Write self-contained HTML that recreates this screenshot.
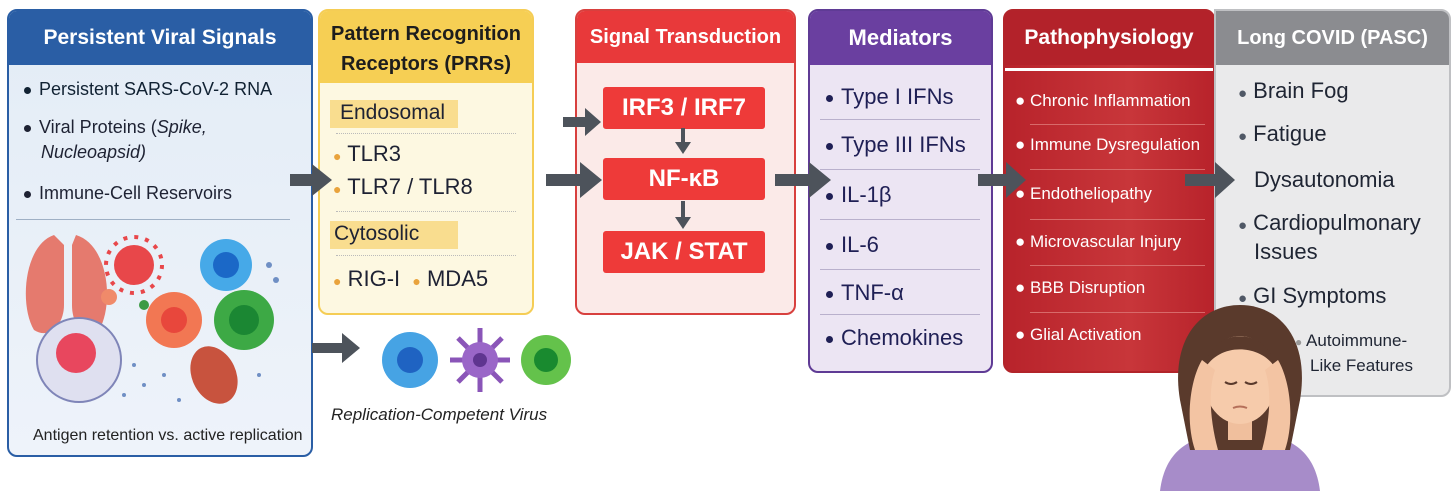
<!DOCTYPE html>
<html><head><meta charset="utf-8"><style>
*{margin:0;padding:0;box-sizing:border-box}
body{width:1456px;height:491px;background:#fff;position:relative;overflow:hidden;font-family:"Liberation Sans Narrow","Liberation Sans",sans-serif;color:#1e2233}
.a{position:absolute}
.panel{position:absolute;border-radius:10px;overflow:hidden;border:2px solid}
.hd{position:absolute;left:0;right:0;top:0;color:#fff;font-weight:bold;text-align:center;font-size:21px}
.t{position:absolute;white-space:nowrap}
.dot::before{content:"";display:inline-block;width:7px;height:7px;border-radius:50%;background:currentColor;margin-right:8px;vertical-align:middle}
.hr{position:absolute;height:1px}
.box{position:absolute;left:603px;width:162px;height:42px;background:#ee3a39;border-radius:3px;color:#fff;font-weight:bold;font-size:24px;text-align:center;line-height:42px}
</style></head><body>
<svg class="a" style="left:0;top:0" width="1456" height="491">
<defs><marker id="m" markerWidth="4" markerHeight="4" refX="2" refY="2" orient="auto"><path d="M0,0L4,2L0,4z" fill="#4d535b"/></marker></defs>
</svg>

<!-- Panel 1 -->
<div class="panel" style="left:7px;top:9px;width:306px;height:448px;border-color:#2a5ea5;background:linear-gradient(#e3ecf6,#eef3fa)">
 <div class="hd" style="height:54px;background:#2a5ea5;line-height:54px;font-size:21px">Persistent Viral Signals</div>
</div>
<div class="t dot" style="left:24px;top:79px;font-size:18px;color:#123">Persistent SARS-CoV-2 RNA</div>
<div class="t dot" style="left:24px;top:117px;font-size:18px">Viral Proteins (<i>Spike,</i></div>
<div class="t" style="left:41px;top:142px;font-size:18px"><i>Nucleoapsid)</i></div>
<div class="t dot" style="left:24px;top:183px;font-size:18px">Immune-Cell Reservoirs</div>
<div class="hr" style="left:16px;top:219px;width:274px;background:#9fb0c5"></div>
<svg class="a" style="left:14px;top:225px" width="290" height="190">
 <path d="M40,10 C10,20 5,80 20,105 C35,115 50,100 50,80 L50,20z" fill="#e57a6e"/>
 <path d="M62,10 C95,20 100,80 85,105 C70,115 58,100 58,80 L58,20z" fill="#e57a6e"/>
 <g fill="#e8474a"><circle cx="120" cy="40" r="20"/><circle cx="120" cy="40" r="28" fill="none" stroke="#e8474a" stroke-width="4" stroke-dasharray="4 7"/></g>
 <circle cx="212" cy="40" r="26" fill="#46a9e8"/><circle cx="212" cy="40" r="13" fill="#1b68c7"/>
 <circle cx="160" cy="95" r="28" fill="#f27753"/><circle cx="160" cy="95" r="13" fill="#e8473c"/>
 <circle cx="230" cy="95" r="30" fill="#3da945"/><circle cx="230" cy="95" r="15" fill="#1b8733"/>
 <circle cx="95" cy="72" r="8" fill="#f08a6a"/><circle cx="130" cy="80" r="5" fill="#3c9a44"/>
 <circle cx="65" cy="135" r="42" fill="#dfe0f0" stroke="#7f85b8" stroke-width="2"/><circle cx="62" cy="128" r="20" fill="#e8475e"/>
 <ellipse cx="200" cy="150" rx="22" ry="30" fill="#c8533e" transform="rotate(-25 200 150)"/>
 <g fill="#6f8fc4"><circle cx="120" cy="140" r="2"/><circle cx="130" cy="160" r="2"/><circle cx="150" cy="150" r="2"/><circle cx="110" cy="170" r="2"/><circle cx="165" cy="175" r="2"/><circle cx="245" cy="150" r="2"/><circle cx="255" cy="40" r="3"/><circle cx="262" cy="55" r="3"/></g>
</svg>
<div class="t" style="left:33px;top:427px;font-size:16px;color:#222">Antigen retention vs. active replication</div>

<!-- Panel 2 -->
<div class="panel" style="left:318px;top:9px;width:216px;height:306px;border-color:#f5cd55;background:#fdf8e1">
 <div class="hd" style="height:72px;background:#f6cf54;color:#1d1d1d;font-size:20px;line-height:30px;padding-top:8px">Pattern Recognition<br>Receptors (PRRs)</div>
</div>
<div class="a" style="left:330px;top:100px;width:128px;height:28px;background:#f9dd8f"></div>
<div class="t" style="left:340px;top:101px;font-size:21px">Endosomal</div>
<div class="hr" style="left:336px;top:133px;width:180px;border-top:1px dotted #bbb"></div>
<div class="t" style="left:333px;top:141px;font-size:22px;color:#e9a33c"><span style="font-size:14px">●</span> <span style="color:#1e2233">TLR3</span></div>
<div class="t" style="left:333px;top:174px;font-size:22px;color:#e9a33c"><span style="font-size:14px">●</span> <span style="color:#1e2233">TLR7 / TLR8</span></div>
<div class="hr" style="left:336px;top:211px;width:180px;border-top:1px dotted #bbb"></div>
<div class="a" style="left:330px;top:221px;width:128px;height:28px;background:#f9dd8f"></div>
<div class="t" style="left:334px;top:222px;font-size:21px">Cytosolic</div>
<div class="hr" style="left:336px;top:255px;width:180px;border-top:1px dotted #bbb"></div>
<div class="t" style="left:333px;top:266px;font-size:22px;color:#e9a33c"><span style="font-size:14px">●</span> <span style="color:#1e2233">RIG-I</span> &nbsp;<span style="font-size:14px">●</span> <span style="color:#1e2233">MDA5</span></div>

<!-- Panel 3 -->
<div class="panel" style="left:575px;top:9px;width:221px;height:306px;border-color:#d8403e;background:#fbeae8">
 <div class="hd" style="height:52px;background:#e8393a;line-height:52px;font-size:20px">Signal Transduction</div>
</div>
<div class="box" style="top:87px">IRF3 / IRF7</div>
<div class="box" style="top:158px">NF-κB</div>
<div class="box" style="top:231px">JAK / STAT</div>

<!-- Panel 4 -->
<div class="panel" style="left:808px;top:9px;width:185px;height:364px;border-color:#5f3b95;background:#ece5f3">
 <div class="hd" style="height:54px;background:#6a3fa0;line-height:54px;font-size:22px">Mediators</div>
</div>
<div class="t dot" style="left:826px;top:84px;font-size:22px;color:#1f1f55">Type I IFNs</div>
<div class="t dot" style="left:826px;top:132px;font-size:22px;color:#1f1f55">Type III IFNs</div>
<div class="t dot" style="left:826px;top:182px;font-size:22px;color:#1f1f55">IL-1β</div>
<div class="t dot" style="left:826px;top:232px;font-size:22px;color:#1f1f55">IL-6</div>
<div class="t dot" style="left:826px;top:280px;font-size:22px;color:#1f1f55">TNF-α</div>
<div class="t dot" style="left:826px;top:325px;font-size:22px;color:#1f1f55">Chemokines</div>
<div class="hr" style="left:820px;top:119px;width:160px;background:#b9b0cc"></div>
<div class="hr" style="left:820px;top:169px;width:160px;background:#b9b0cc"></div>
<div class="hr" style="left:820px;top:219px;width:160px;background:#b9b0cc"></div>
<div class="hr" style="left:820px;top:269px;width:160px;background:#b9b0cc"></div>
<div class="hr" style="left:820px;top:314px;width:160px;background:#b9b0cc"></div>

<!-- Panel 5 -->
<div class="panel" style="left:1003px;top:9px;width:212px;height:364px;border-color:#b2242a;background:linear-gradient(90deg,#b8232b,#c8363a 60%,#b8232b)">
 <div class="hd" style="height:54px;background:#b3222a;line-height:54px;font-size:21px">Pathophysiology</div>
 <div class="hr" style="left:0;right:0;top:57px;height:3px;background:#fff"></div>
</div>
<div class="t" style="left:1015px;top:91px;font-size:17px;color:#fff">● Chronic Inflammation</div>
<div class="t" style="left:1015px;top:135px;font-size:17px;color:#fff">● Immune Dysregulation</div>
<div class="t" style="left:1015px;top:184px;font-size:17px;color:#fff">● Endotheliopathy</div>
<div class="t" style="left:1015px;top:232px;font-size:17px;color:#fff">● Microvascular Injury</div>
<div class="t" style="left:1015px;top:278px;font-size:17px;color:#fff">● BBB Disruption</div>
<div class="t" style="left:1015px;top:325px;font-size:17px;color:#fff">● Glial Activation</div>
<div class="hr" style="left:1030px;top:124px;width:175px;background:#d86a6a"></div>
<div class="hr" style="left:1030px;top:169px;width:175px;background:#d86a6a"></div>
<div class="hr" style="left:1030px;top:219px;width:175px;background:#d86a6a"></div>
<div class="hr" style="left:1030px;top:265px;width:175px;background:#d86a6a"></div>
<div class="hr" style="left:1030px;top:312px;width:175px;background:#d86a6a"></div>

<!-- Panel 6 -->
<div class="panel" style="left:1214px;top:9px;width:237px;height:388px;border-color:#bfc0c3;background:#eaeaeb;border-radius:0 10px 10px 0">
 <div class="hd" style="height:54px;background:#8b8c90;line-height:54px;font-size:20px">Long COVID (PASC)</div>
</div>
<div class="t" style="left:1238px;top:78px;font-size:22px;color:#1f2533"><span style="color:#505866;font-size:15px">●</span> Brain Fog</div>
<div class="t" style="left:1238px;top:121px;font-size:22px;color:#1f2533"><span style="color:#505866;font-size:15px">●</span> Fatigue</div>
<div class="t" style="left:1254px;top:167px;font-size:22px;color:#1f2533">Dysautonomia</div>
<div class="t" style="left:1238px;top:210px;font-size:22px;color:#1f2533"><span style="color:#505866;font-size:15px">●</span> Cardiopulmonary</div>
<div class="t" style="left:1254px;top:239px;font-size:22px;color:#1f2533">Issues</div>
<div class="t" style="left:1238px;top:283px;font-size:22px;color:#1f2533"><span style="color:#505866;font-size:15px">●</span> GI Symptoms</div>
<div class="t" style="left:1295px;top:331px;font-size:17px;color:#1f2533"><span style="color:#999;font-size:12px">●</span> Autoimmune-</div>
<div class="t" style="left:1310px;top:356px;font-size:17px;color:#1f2533">Like Features</div>

<!-- woman -->
<svg class="a" style="left:1140px;top:300px" width="200" height="191">
 <path d="M20,191 C25,150 50,140 70,135 L130,135 C150,140 175,150 180,191z" fill="#a78cc9"/>
 <path d="M40,100 C30,40 60,5 100,5 C140,5 170,40 160,100 L150,150 L50,150z" fill="#5a3a2c"/>
 <rect x="88" y="110" width="24" height="30" fill="#f0bf9d"/>
 <ellipse cx="100" cy="80" rx="36" ry="44" fill="#f6cbab"/>
 <path d="M64,70 C70,25 130,25 136,70 C125,45 80,40 64,70z" fill="#5a3a2c"/>
 <path d="M85,82 q6,4 12,0 M105,82 q6,4 12,0" stroke="#5a3a2c" stroke-width="2" fill="none"/>
 <path d="M93,108 q7,-3 14,0" stroke="#b5705a" stroke-width="2" fill="none"/>
 <path d="M55,150 C45,120 50,80 62,60 L75,70 C68,90 70,120 78,150z" fill="#f3c4a3"/>
 <path d="M145,150 C155,120 150,80 138,60 L125,70 C132,90 130,120 122,150z" fill="#f3c4a3"/>
</svg>

<!-- arrows -->
<svg class="a" style="left:0;top:0" width="1456" height="491">
 <g fill="#4d535b">
  <path d="M290,174h22v-10l20,16l-20,16v-10h-22z"/>
  <path d="M546,174h34v-12l22,18l-22,18v-12h-34z"/>
  <path d="M563,117h22v-9l16,14l-16,14v-9h-22z"/>
  <path d="M775,174h34v-12l22,18l-22,18v-12h-34z"/>
  <path d="M978,174h28v-12l20,18l-20,18v-12h-28z"/>
  <path d="M1185,174h30v-12l20,18l-20,18v-12h-30z"/>
  <path d="M312,343h30v-10l18,15l-18,15v-10h-30z"/>
  <path d="M681,128v14h-6l8,12l8,-12h-6v-14z"/>
  <path d="M681,201v16h-6l8,12l8,-12h-6v-16z"/>
 </g>
</svg>

<!-- bottom cells -->
<svg class="a" style="left:370px;top:320px" width="210" height="80">
 <circle cx="40" cy="40" r="28" fill="#46a3e4"/><circle cx="40" cy="40" r="13" fill="#1f63c2"/>
 <g stroke="#8a55b8" stroke-width="5"><line x1="110" y1="8" x2="110" y2="72"/><line x1="80" y1="40" x2="140" y2="40"/><line x1="88" y1="18" x2="132" y2="62"/><line x1="132" y1="18" x2="88" y2="62"/></g>
 <circle cx="110" cy="40" r="18" fill="#9a66c8"/><circle cx="110" cy="40" r="7" fill="#5f3590"/>
 <circle cx="176" cy="40" r="25" fill="#64c24b"/><circle cx="176" cy="40" r="12" fill="#198a2f"/>
</svg>
<div class="t" style="left:331px;top:405px;font-size:17px;font-style:italic;color:#222">Replication-Competent Virus</div>
</body></html>
